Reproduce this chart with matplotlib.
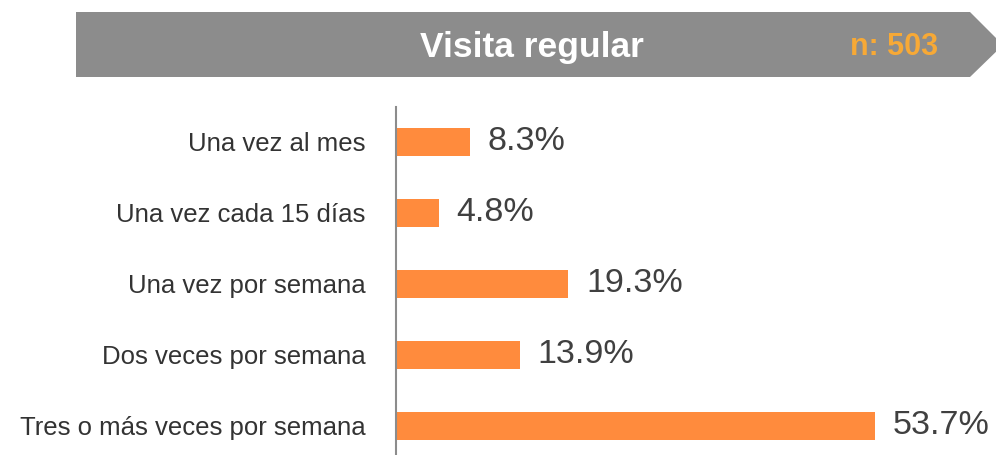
import matplotlib.pyplot as plt
from matplotlib.patches import Polygon
from matplotlib import font_manager

categories = ['Una vez al mes', 'Una vez cada 15 días', 'Una vez por semana',
              'Dos veces por semana', 'Tres o más veces por semana']
values = [8.3, 4.8, 19.3, 13.9, 53.7]
title = 'Visita regular'
n_label = 'n: 503'

names = {f.name for f in font_manager.fontManager.ttflist}
fam = 'Liberation Sans Narrow' if 'Liberation Sans Narrow' in names else 'Liberation Sans'
plt.rcParams['font.family'] = [fam, 'DejaVu Sans']

W, H = 996, 455
fig = plt.figure(figsize=(W / 100, H / 100), dpi=100)

# banner
pts = [(76, 12), (970, 12), (1003, 45), (970, 77), (76, 77)]
banner = Polygon([(x / W, 1 - y / H) for x, y in pts], closed=True,
                 transform=fig.transFigure, facecolor='#8c8c8c', edgecolor='none')
fig.patches.append(banner)
fig.text(532 / W, 1 - 47 / H, title, color='white', fontsize=25.5, fontweight='bold',
         ha='center', va='center')
fig.text(894 / W, 1 - 47 / H, n_label, color='#f7a936', fontsize=22, fontweight='bold',
         ha='center', va='center')

ax = fig.add_axes([396 / W, 0, 535 / W, (H - 107) / H])
y = range(len(categories))
ax.barh(y, values, height=0.39, color='#ff8b3d')
ax.set_xlim(0, 60)
ax.set_ylim(4.41, -0.49)
ax.set_yticks(list(y))
ax.set_yticklabels(categories, fontsize=18.5, color='#333333')
ax.tick_params(axis='y', length=0, pad=22)
ax.set_xticks([])
for s in ['top', 'right', 'bottom']:
    ax.spines[s].set_visible(False)
ax.spines['left'].set_color('#8c8c8c')
ax.spines['left'].set_linewidth(1.5)

for i, v in enumerate(values):
    ax.text(v + 2, i, f'{v:.1f}%', va='center', ha='left', fontsize=24.5, color='#404040')

fig.savefig('out.png', dpi=100)
